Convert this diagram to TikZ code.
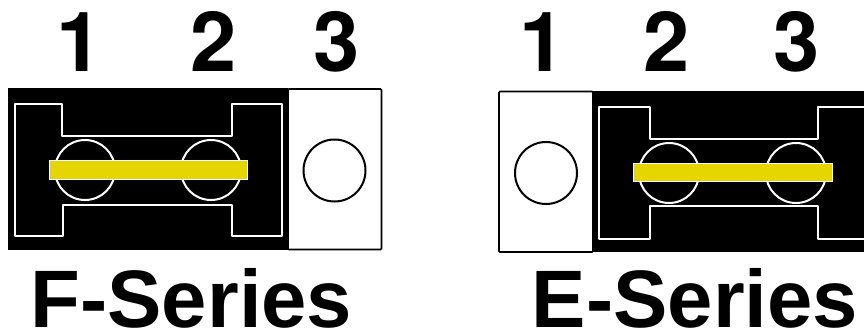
\documentclass[tikz,border=0pt]{standalone}
\usepackage{fontspec}
\setmainfont{Liberation Sans}
\newfontfamily\digitfont{TeX Gyre Heros}
\definecolor{bar}{RGB}{230,214,0}
\tikzset{
  num/.style={font=\digitfont\fontsize{83}{83}\selectfont\bfseries,inner sep=0pt,anchor=base},
  title/.style={font=\fontsize{81.5}{83}\selectfont\bfseries,inner sep=0pt,anchor=base},
  pcb/.style={fill=black,draw=none},
  trace/.style={draw=white,line width=2.6pt,line join=round},
  pad/.style={draw=white,line width=2pt},
  hole/.style={draw=black,line width=2pt,fill=white},
  plate/.style={draw=black,line width=1.6pt,fill=white,rounded corners=1pt},
  jumper/.style={fill=bar,draw=white,line width=.7pt}
}
\begin{document}
\begin{tikzpicture}[x=1pt,y=-1pt]
\useasboundingbox (0,0) rectangle (864,335);
% F-Series
\fill[pcb] (8,88) rectangle (288,250);
\draw[plate] (288,89) rectangle (381.5,249.5);
\draw[hole] (334.5,170.5) circle (31);
\draw[pad] (85,170) circle (30);
\draw[pad] (211,170) circle (30);
\draw[trace] (15,104) -- (62,104) -- (62,136) -- (232,136) -- (232,104) -- (282,104) -- (282,236) -- (232,236) -- (232,205) -- (63,205) -- (63,236) -- (15,236) -- cycle;
\fill[jumper] (49,160) rectangle (247,179);
% E-Series
\fill[pcb] (593,91) rectangle (864,252);
\draw[plate] (499,91.5) rectangle (593,252);
\draw[hole] (546,173) circle (31);
\draw[pad] (669,173) circle (30);
\draw[pad] (796,173) circle (30);
\draw[trace] (870,107) -- (818,107) -- (818,139) -- (650,139) -- (650,107) -- (599,107) -- (599,239) -- (650,239) -- (650,206) -- (818,206) -- (818,239) -- (870,239);
\fill[jumper] (633,163) rectangle (832,181);
% labels
\node[num] (f1) at (79.5,71) {1};
\node[num] (f2) at (214,71) {2};
\node[num] (f3) at (336.5,71) {3};
\node[num] (e1) at (543,71) {1};
\node[num] (e2) at (667,71) {2};
\node[num] (e3) at (797,71) {3};
\node[title] (ft) at (191.5,327) {F-Series};
\node[title] (et) at (695,327) {E-Series};
\end{tikzpicture}
\end{document}
